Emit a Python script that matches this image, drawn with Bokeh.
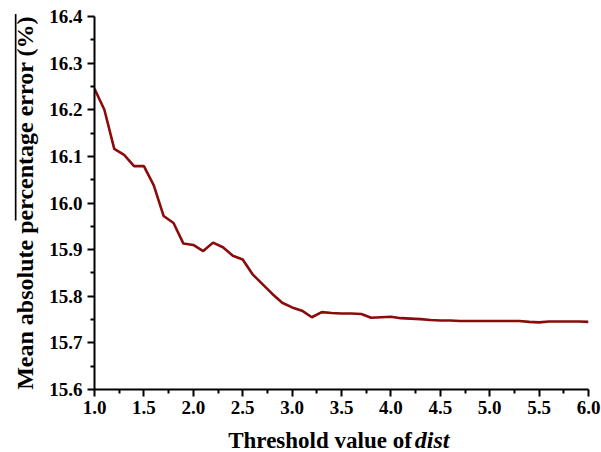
from bokeh.plotting import figure
from bokeh.models import (Range1d, FixedTicker, PrintfTickFormatter,
                          Label, Title)
from bokeh.embed import file_html
from bokeh.resources import INLINE

# ---- data ----
thresholds = [1.0, 1.1, 1.2, 1.3, 1.4, 1.5, 1.6, 1.7, 1.8, 1.9,
              2.0, 2.1, 2.2, 2.3, 2.4, 2.5, 2.6, 2.7, 2.8, 2.9,
              3.0, 3.1, 3.2, 3.3, 3.4, 3.5, 3.6, 3.7, 3.8, 3.9,
              4.0, 4.1, 4.2, 4.3, 4.4, 4.5, 4.6, 4.7, 4.8, 4.9,
              5.0, 5.1, 5.2, 5.3, 5.4, 5.5, 5.6, 5.7, 5.8, 5.9, 6.0]
mape = [16.245, 16.200, 16.116, 16.103, 16.079, 16.079, 16.038, 15.972, 15.957, 15.913,
        15.910, 15.897, 15.915, 15.905, 15.887, 15.879, 15.847, 15.826, 15.805, 15.786,
        15.776, 15.769, 15.755, 15.766, 15.764, 15.763, 15.763, 15.762, 15.754, 15.755,
        15.756, 15.753, 15.752, 15.751, 15.749, 15.748, 15.748, 15.747, 15.747, 15.747,
        15.747, 15.747, 15.747, 15.747, 15.745, 15.744, 15.746, 15.746, 15.746, 15.746, 15.745]

x_ticks = [1.0, 1.5, 2.0, 2.5, 3.0, 3.5, 4.0, 4.5, 5.0, 5.5, 6.0]
x_minor = [1.25, 1.75, 2.25, 2.75, 3.25, 3.75, 4.25, 4.75, 5.25, 5.75]
y_ticks = [15.6, 15.7, 15.8, 15.9, 16.0, 16.1, 16.2, 16.3, 16.4]
y_minor = [15.65, 15.75, 15.85, 15.95, 16.05, 16.15, 16.25, 16.35]

x_label_main = "Threshold value of"
x_label_italic = "dist"
y_label = "Mean absolute percentage error (%)"

FONT = "Liberation Serif"

p = figure(width=601, height=452, output_backend="svg", toolbar_location=None,
           x_range=Range1d(1.0, 6.0), y_range=Range1d(15.6, 16.4),
           min_border_left=94, min_border_right=13, min_border_top=16,
           min_border_bottom=63)
p.outline_line_color = None
p.xgrid.grid_line_color = None
p.ygrid.grid_line_color = None
p.background_fill_color = "white"
p.border_fill_color = "white"

p.line(thresholds, mape, line_color="#8b0b0b", line_width=2.6)

for ax in (p.xaxis[0], p.yaxis[0]):
    ax.axis_line_width = 2
    ax.axis_line_color = "black"
    ax.major_tick_line_width = 2
    ax.minor_tick_line_width = 2
    ax.major_tick_line_color = "black"
    ax.minor_tick_line_color = "black"
    ax.major_tick_out = 7
    ax.major_tick_in = 0
    ax.minor_tick_out = 4
    ax.minor_tick_in = 0
    ax.major_label_text_font = FONT
    ax.major_label_text_font_style = "bold"
    ax.major_label_text_font_size = "19px"
    ax.major_label_text_color = "black"
    ax.formatter = PrintfTickFormatter(format="%.1f")

p.xaxis[0].ticker = FixedTicker(ticks=x_ticks, minor_ticks=x_minor)
p.yaxis[0].ticker = FixedTicker(ticks=y_ticks, minor_ticks=y_minor)
p.xaxis[0].major_label_standoff = 4
p.yaxis[0].major_label_standoff = 5

p.yaxis[0].axis_label = y_label
p.yaxis[0].axis_label_text_font = FONT
p.yaxis[0].axis_label_text_font_style = "bold"
p.yaxis[0].axis_label_text_font_size = "24px"
p.yaxis[0].axis_label_text_color = "black"
p.yaxis[0].axis_label_standoff = 8

# x axis title: bold part as a label row below the axis ...
p.add_layout(Label(x=133.7, y=1, x_units="screen", y_units="screen",
                   text=x_label_main, text_font=FONT, text_font_style="bold",
                   text_font_size="23px", text_baseline="alphabetic",
                   text_align="left", text_color="black"), "below")
# ... and the italic part as a zero-height title on the same line
p.add_layout(Title(text=x_label_italic, align="left", offset=320.3,
                   vertical_align="top", standoff=-30,
                   text_font=FONT, text_font_style="bold italic",
                   text_font_size="24px", text_color="black"), "below")

# overline above part of the y axis title (thin filled box, near-zero height panel)
try:
    bar = Label(x=-78, y=-204, x_units="screen", y_units="screen", text=" ",
                text_font_size="1.5px", angle=90, angle_units="deg",
                text_align="left", text_baseline="bottom",
                background_fill_color="black",
                padding=dict(left=103, right=103, top=0, bottom=0))
    p.add_layout(bar, "above")
except Exception:
    pass

open("out.html", "w").write(file_html(p, INLINE))
